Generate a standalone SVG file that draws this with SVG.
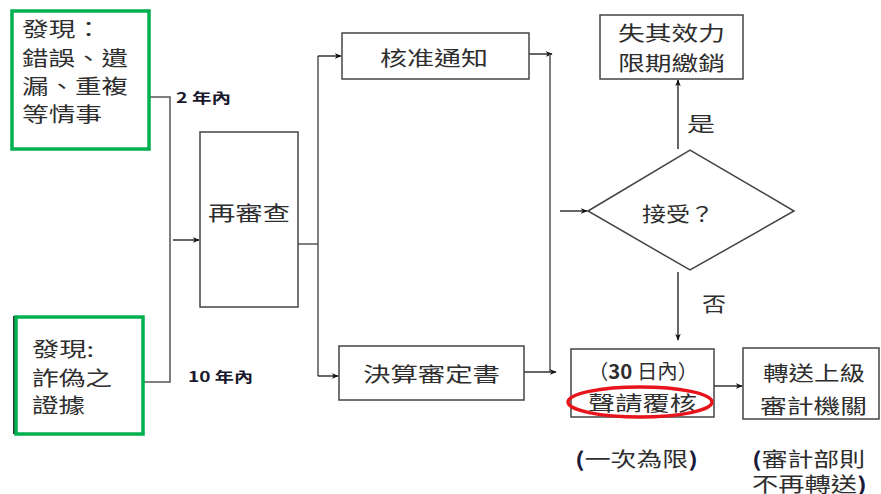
<svg xmlns="http://www.w3.org/2000/svg" width="881" height="494" viewBox="0 0 881 494">
<style>
.t{font-family:"Noto Sans CJK TC","Noto Sans CJK SC",sans-serif;font-size:20px;fill:#2e2e2e;dominant-baseline:central}
.lb{font-family:"Noto Sans CJK TC","Liberation Sans",sans-serif;font-size:14px;font-weight:bold;fill:#1a1a2e;dominant-baseline:central}
.box{fill:#fff;stroke:#444;stroke-width:1.5}
.g{fill:#fff;stroke:#00b050;stroke-width:3.5}
.c{fill:none;stroke:#555;stroke-width:1.5}
.a{fill:none;stroke:#333;stroke-width:1.5;marker-end:url(#ah)}
</style>
<defs>
<marker id="ah" viewBox="0 0 10 10" refX="9" refY="5" markerWidth="7" markerHeight="7" markerUnits="userSpaceOnUse" orient="auto">
<path d="M0,1 L10,5 L0,9 L3,5 Z" fill="#111"/>
</marker>
</defs>
<rect width="881" height="494" fill="#fff"/>
<g id="connectors">
<path class="c" d="M149,97 H170 V382 H143"/>
<path class="a" d="M173,240 H199"/>
<path class="c" d="M298,244 H318"/>
<path class="c" d="M318,56 V376"/>
<path class="a" d="M318,56 H341"/>
<path class="a" d="M318,376 H338"/>
<path class="a" d="M529,54 H552"/>
<path class="c" d="M550,54 V372"/>
<path class="a" d="M524,372 H556"/>
<path class="a" d="M560,211 H587"/>
<path class="a" d="M678,149 V80"/>
<path class="a" d="M678,272 V340"/>
<path class="a" d="M714,386 H742"/>
</g>
<g id="labels">
<text class="lb" x="176" y="97" textLength="55" lengthAdjust="spacingAndGlyphs">2 年內</text>
<text class="lb" x="188" y="376" textLength="65" lengthAdjust="spacingAndGlyphs">10 年內</text>
<text class="t" x="687" y="123" textLength="28" lengthAdjust="spacingAndGlyphs">是</text>
<text class="t" x="702" y="303" textLength="24" lengthAdjust="spacingAndGlyphs">否</text>
</g>
<g id="n1">
<rect class="g" x="12" y="11" width="137" height="138"/>
<text class="t" x="22" y="28" textLength="80" lengthAdjust="spacingAndGlyphs">發現：</text>
<text class="t" x="22" y="57" textLength="106" lengthAdjust="spacingAndGlyphs">錯誤、遺</text>
<text class="t" x="22" y="85" textLength="106" lengthAdjust="spacingAndGlyphs">漏、重複</text>
<text class="t" x="22" y="113" textLength="80" lengthAdjust="spacingAndGlyphs">等情事</text>
</g>
<g id="n2">
<line x1="14" y1="316" x2="14" y2="434" stroke="#333" stroke-width="2"/>
<rect class="g" x="16" y="317" width="127" height="117"/>
<text class="t" x="32" y="348" textLength="62" lengthAdjust="spacingAndGlyphs">發現:</text>
<text class="t" x="32" y="377" textLength="80" lengthAdjust="spacingAndGlyphs">詐偽之</text>
<text class="t" x="32" y="404" textLength="53" lengthAdjust="spacingAndGlyphs">證據</text>
</g>
<g id="n3">
<rect class="box" x="200" y="132" width="98" height="175"/>
<text class="t" x="208" y="212" textLength="82" lengthAdjust="spacingAndGlyphs">再審查</text>
</g>
<g id="n4">
<rect class="box" x="342" y="33" width="187" height="46"/>
<text class="t" x="380" y="57" textLength="108" lengthAdjust="spacingAndGlyphs">核准通知</text>
</g>
<g id="n5">
<rect class="box" x="339" y="346" width="185" height="54"/>
<text class="t" x="363" y="373" textLength="137" lengthAdjust="spacingAndGlyphs">決算審定書</text>
</g>
<g id="n6">
<rect class="box" x="600" y="15" width="143" height="64"/>
<text class="t" x="618" y="32" textLength="107" lengthAdjust="spacingAndGlyphs">失其效力</text>
<text class="t" x="618" y="62" textLength="107" lengthAdjust="spacingAndGlyphs">限期繳銷</text>
</g>
<g id="n7">
<polygon points="588,211 690,150 794,211 690,270" fill="#fff" stroke="#444" stroke-width="1.5"/>
<text class="t" x="642" y="213" textLength="72" lengthAdjust="spacingAndGlyphs">接受？</text>
</g>
<g id="n8">
<rect class="box" x="571" y="349" width="143" height="68"/>
<text class="t" x="588" y="370" textLength="110" lengthAdjust="spacingAndGlyphs">（<tspan font-weight="bold">30</tspan> 日內）</text>
<text class="t" x="588" y="402" textLength="109" lengthAdjust="spacingAndGlyphs">聲請覆核</text>
<ellipse cx="640" cy="402" rx="72" ry="15" fill="none" stroke="#e8141b" stroke-width="3.5"/>
</g>
<g id="n9">
<rect class="box" x="743" y="348" width="136" height="71"/>
<text class="t" x="763" y="372" textLength="102" lengthAdjust="spacingAndGlyphs">轉送上級</text>
<text class="t" x="760" y="405" textLength="107" lengthAdjust="spacingAndGlyphs">審計機關</text>
</g>
<g id="notes">
<text class="t" x="575" y="458" textLength="123" lengthAdjust="spacingAndGlyphs"><tspan font-weight="bold" fill="#1a1a3a">(</tspan>一次為限<tspan font-weight="bold" fill="#1a1a3a">)</tspan></text>
<text class="t" x="752" y="458" textLength="113" lengthAdjust="spacingAndGlyphs"><tspan font-weight="bold" fill="#1a1a3a">(</tspan>審計部則</text>
<text class="t" x="752" y="483" textLength="115" lengthAdjust="spacingAndGlyphs">不再轉送<tspan font-weight="bold" fill="#1a1a3a">)</tspan></text>
</g>
</svg>
